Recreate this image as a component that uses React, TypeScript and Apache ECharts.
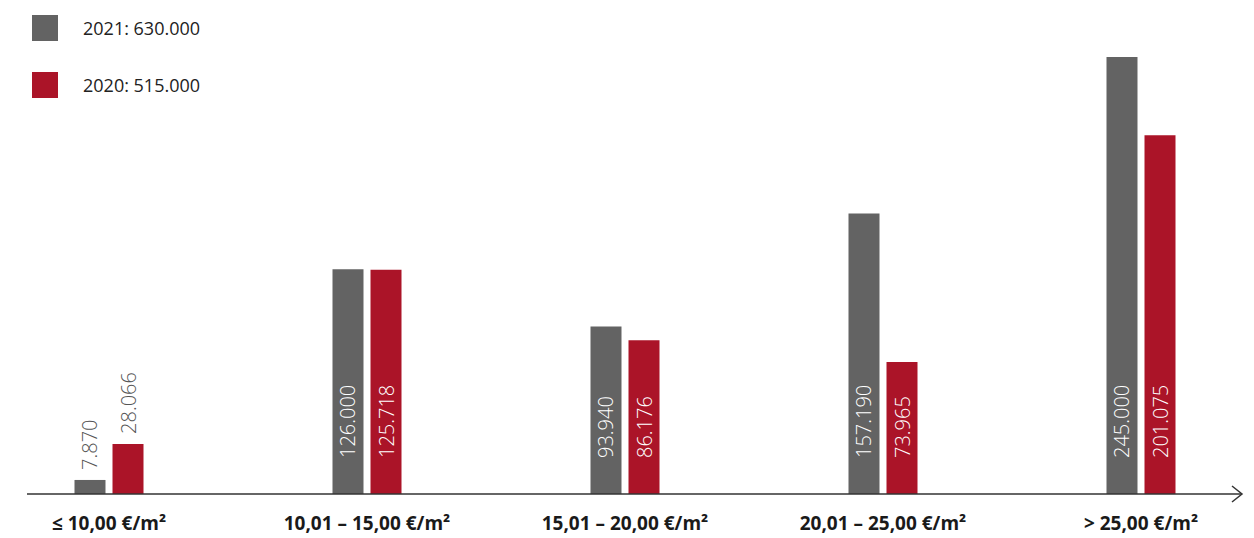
import React, { useEffect, useRef } from "react";
import * as echarts from "echarts";

const categories = ["≤ 10,00 €/m²", "10,01 – 15,00 €/m²", "15,01 – 20,00 €/m²", "20,01 – 25,00 €/m²", "> 25,00 €/m²"];
const years = ["2021", "2020"];
const totals = ["630.000", "515.000"];
const values2021 = [7870, 126000, 93940, 157190, 245000];
const values2020 = [28066, 125718, 86176, 73965, 201075];

const GRAY = "#636363";
const RED = "#ab1428";
const FONT = "'Open Sans', 'Noto Sans', sans-serif";
const OFF = 20; // the chart div starts this many px left of the page

const fmt = (v: number) => v.toLocaleString("de-DE", { useGrouping: true }).replace(/,/g, ".");

function makeData(values: number[]) {
  return values.map((v) =>
    v < 50000
      ? {
          value: v,
          label: {
            position: "top",
            color: "#555555",
            distance: 10,
          },
        }
      : { value: v }
  );
}

const barLabel = {
  show: true,
  position: "insideBottom",
  rotate: 90,
  align: "left",
  verticalAlign: "middle",
  distance: 36,
  color: "#ffffff",
  fontFamily: FONT,
  fontWeight: 300,
  fontSize: 20,
  formatter: (p: any) => fmt(p.value),
};

export default function App() {
  const ref = useRef<HTMLDivElement>(null);
  useEffect(() => {
    if (!ref.current) return;
    const chart = echarts.init(ref.current, null, { renderer: "svg" });
    chart.setOption({
      animation: false,
      backgroundColor: "#ffffff",
      legend: {
        orient: "vertical",
        left: 27 + OFF,
        top: 10,
        itemWidth: 26,
        itemHeight: 26,
        itemGap: 31,
        icon: "rect",
        data: years,
        formatter: (name: string) => `${name}: ${totals[years.indexOf(name)]}`,
        textStyle: {
          fontFamily: FONT,
          fontSize: 18,
          color: "#222222",
          padding: [0, 0, 6, 20],
        },
      },
      grid: { left: 0, right: 0, top: 57, bottom: 44 },
      xAxis: {
        type: "category",
        data: categories,
        axisLine: { show: false },
        axisTick: { show: false },
        axisLabel: {
          margin: 19,
          fontFamily: FONT,
          fontWeight: "bold",
          fontSize: 19,
          color: "#1a1a1a",
        },
      },
      yAxis: {
        type: "value",
        min: 0,
        max: 245000,
        show: false,
        splitLine: { show: false },
      },
      series: [
        {
          name: years[0],
          type: "bar",
          barWidth: 31,
          barGap: "22.6%",
          itemStyle: { color: GRAY },
          label: barLabel,
          data: makeData(values2021),
        },
        {
          name: years[1],
          type: "bar",
          barWidth: 31,
          barGap: "22.6%",
          itemStyle: { color: RED },
          label: barLabel,
          data: makeData(values2020),
        },
      ],
      graphic: [
        {
          type: "line",
          shape: { x1: 27 + OFF, y1: 494, x2: 1242 + OFF, y2: 494 },
          style: { stroke: "#333333", lineWidth: 1.5 },
          z: 10,
        },
        {
          type: "polyline",
          shape: { points: [[1232 + OFF, 486], [1242 + OFF, 494], [1232 + OFF, 502]] },
          style: { stroke: "#333333", lineWidth: 1.5, fill: "none" },
          z: 10,
        },
      ],
    });
    return () => chart.dispose();
  }, []);
  return (
    <div
      ref={ref}
      style={{ position: "fixed", left: -OFF, top: 0, width: 1254 + OFF + 16, height: 538 }}
    />
  );
}
